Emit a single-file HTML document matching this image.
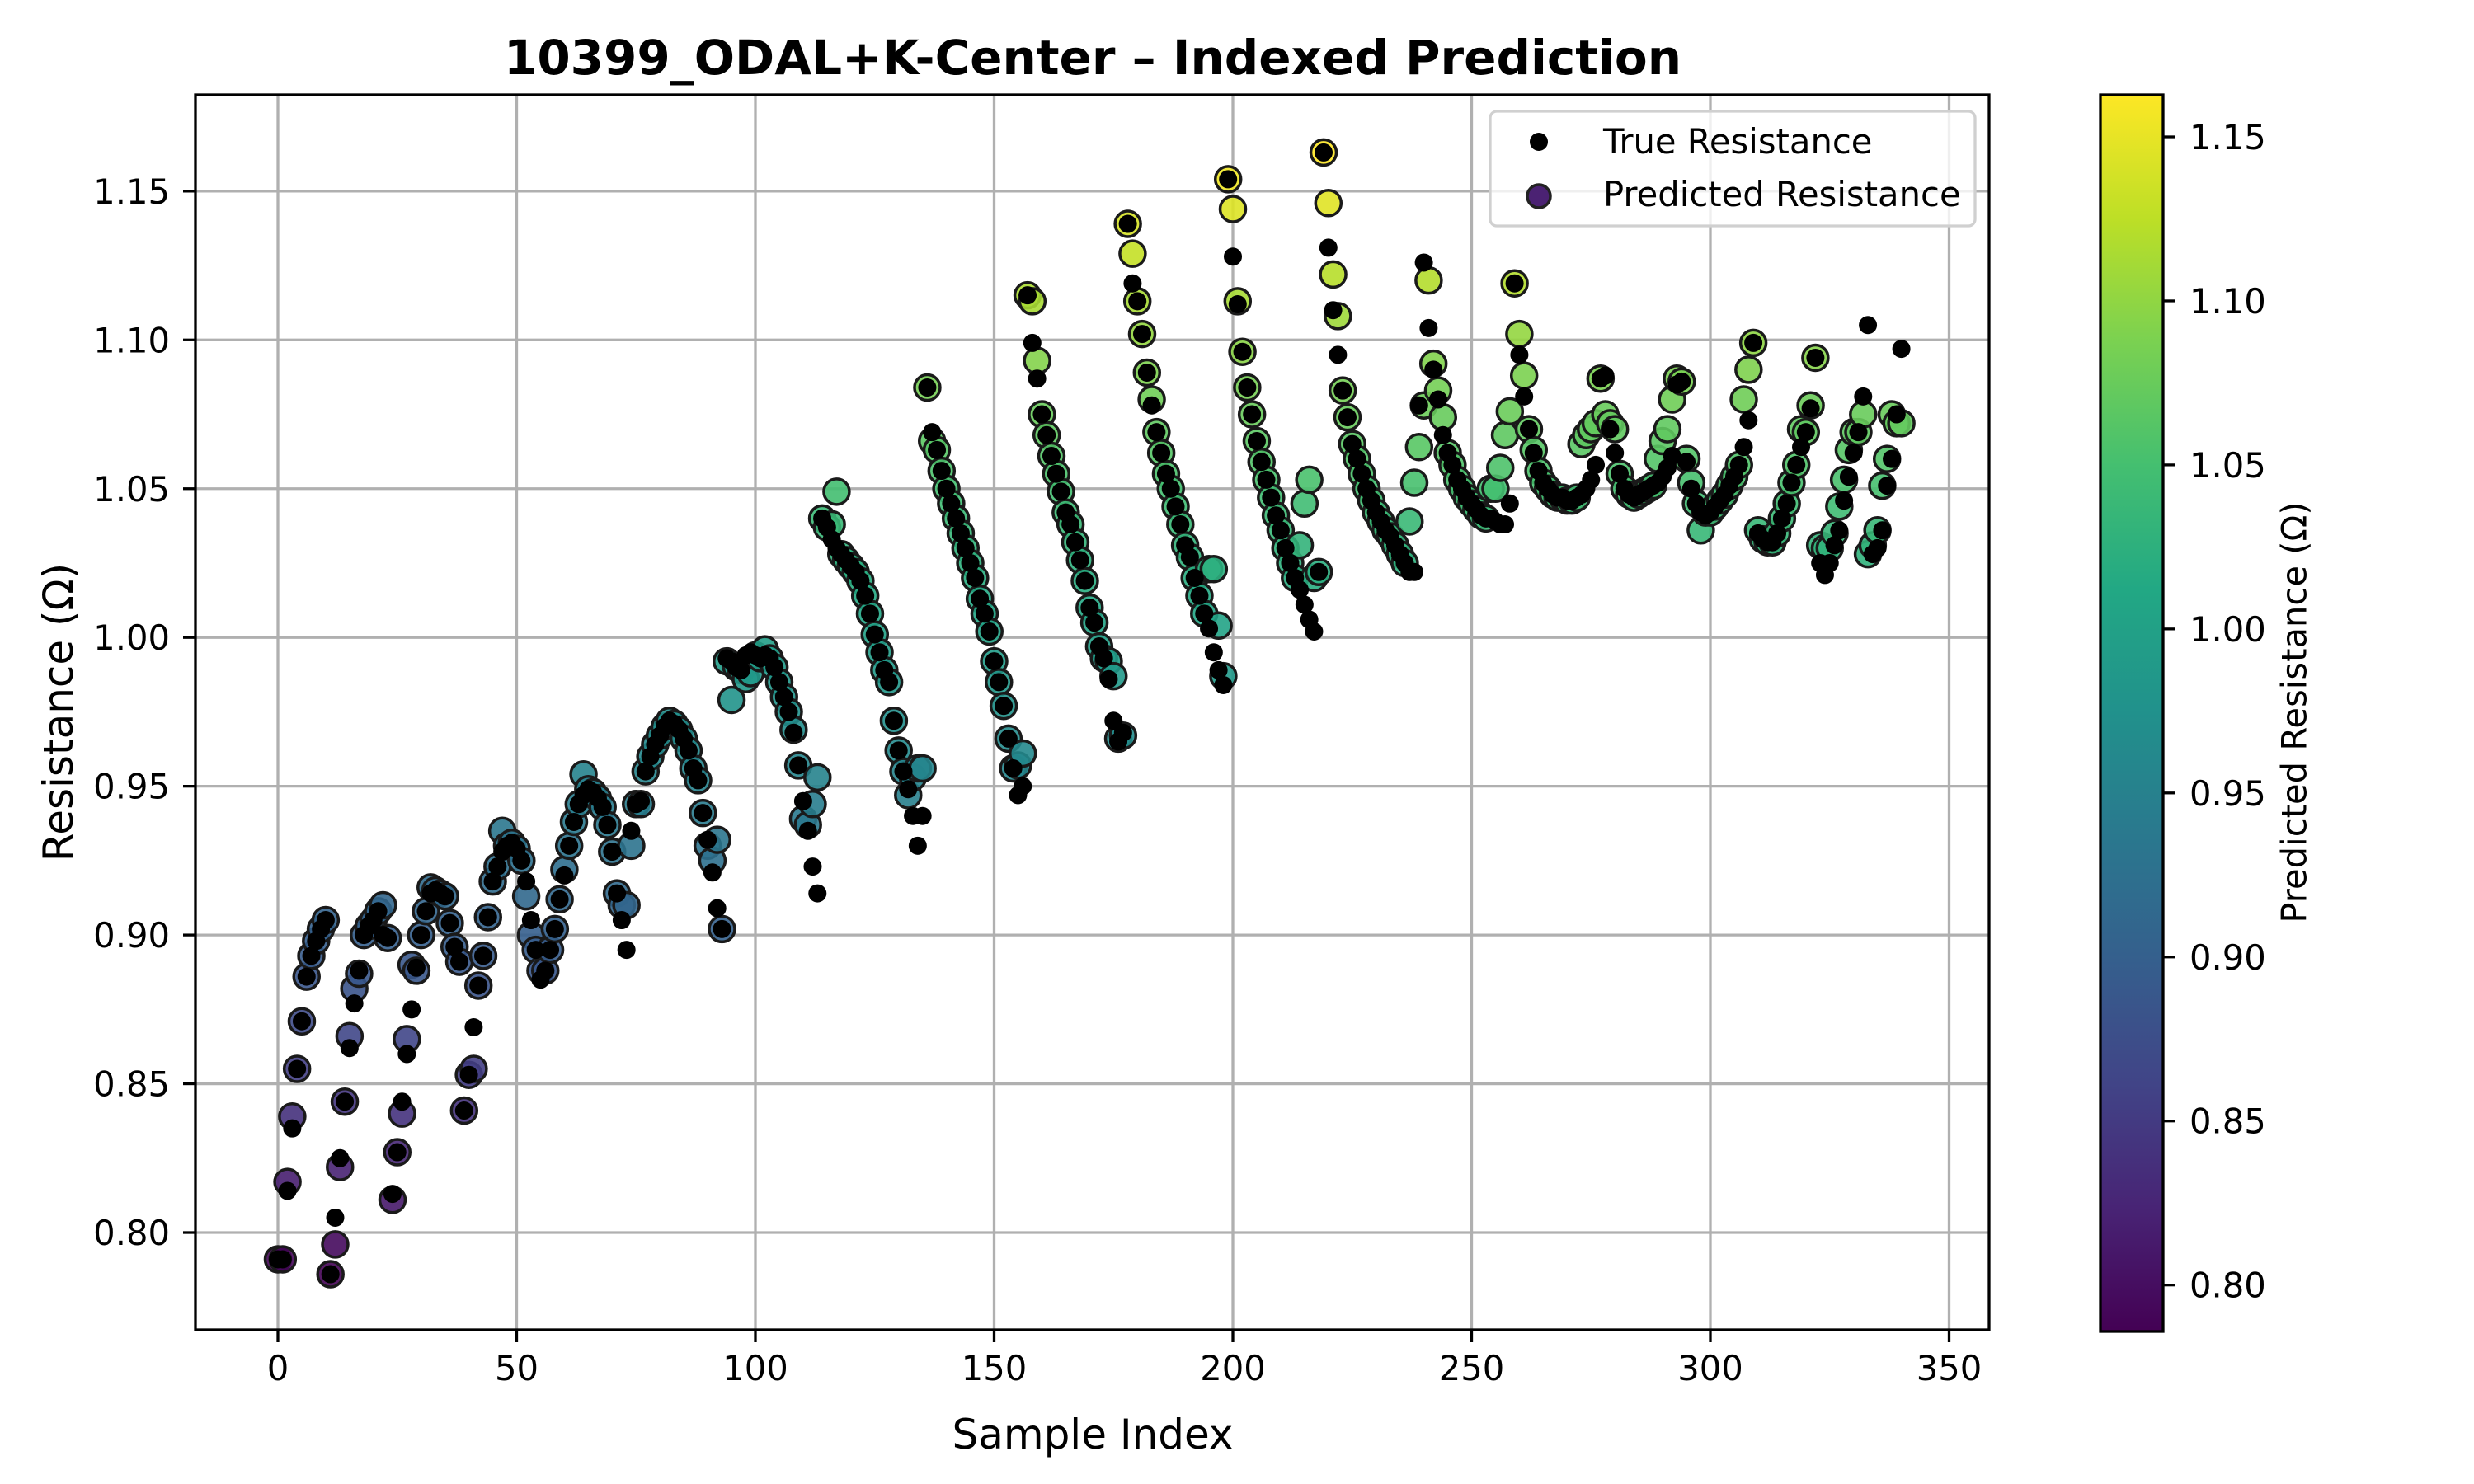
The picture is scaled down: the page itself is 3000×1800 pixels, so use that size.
<!DOCTYPE html>
<html><head><meta charset="utf-8"><style>
html,body{margin:0;padding:0;background:#fff}
svg{display:block;font-family:"DejaVu Sans","Liberation Sans",sans-serif}
</style></head><body>
<svg id="c" width="3000" height="1800" viewBox="0 0 3000 1800" xmlns="http://www.w3.org/2000/svg">
<rect width="3000" height="1800" fill="#fff"/>
<g id="grid"></g>
<g id="marks"></g>
<rect x="237" y="115" width="2175" height="1498" fill="none" stroke="#000" stroke-width="3.3"/>
<g id="axes"></g>
<text x="1325" y="90" text-anchor="middle" font-size="58" font-weight="bold">10399_ODAL+K-Center – Indexed Prediction</text>
<text x="1325" y="1757" text-anchor="middle" font-size="50">Sample Index</text>
<text transform="translate(71,864) rotate(-90)" text-anchor="middle" dominant-baseline="central" font-size="50">Resistance (Ω)</text>
<g>
<rect x="1807" y="135" width="588" height="139" rx="8" fill="#fff" fill-opacity="0.8" stroke="#d0d0d0" stroke-width="3.3"/>
<circle cx="1866" cy="172" r="11" fill="#000"/>
<text x="1944" y="186" font-size="41.7">True Resistance</text>
<circle cx="1866" cy="238" r="14" fill="#4b2273" stroke="#222" stroke-width="3.5"/>
<text x="1944" y="250" font-size="41.7">Predicted Resistance</text>
</g>
<defs><linearGradient id="vir" x1="0" y1="1" x2="0" y2="0"></linearGradient></defs>
<rect x="2547" y="115" width="76" height="1500" fill="url(#vir)" stroke="#000" stroke-width="3.3"/>
<g id="cbaxis"></g>
<text transform="translate(2782,864) rotate(-90)" text-anchor="middle" dominant-baseline="central" font-size="41.7">Predicted Resistance (Ω)</text>
</svg>
<script>
const xTicks=[0,50,100,150,200,250,300,350];
const yTicks=[0.80,0.85,0.90,0.95,1.00,1.05,1.10,1.15];
const cbTicks=[0.80,0.85,0.90,0.95,1.00,1.05,1.10,1.15];
const trueVals=[0.791,0.791,0.814,0.835,0.855,0.871,0.886,0.893,0.898,0.902,0.905,0.786,0.805,0.825,0.844,0.862,0.877,0.888,0.900,0.903,0.905,0.908,0.900,0.899,0.813,0.827,0.844,0.860,0.875,0.889,0.900,0.908,0.914,0.915,0.914,0.913,0.904,0.896,0.891,0.841,0.853,0.869,0.883,0.893,0.906,0.918,0.923,0.928,0.930,0.931,0.929,0.925,0.918,0.905,0.895,0.885,0.888,0.895,0.902,0.912,0.920,0.930,0.938,0.944,0.947,0.949,0.948,0.946,0.943,0.937,0.928,0.914,0.905,0.895,0.935,0.944,0.945,0.955,0.960,0.964,0.967,0.970,0.972,0.971,0.969,0.966,0.962,0.956,0.952,0.941,0.932,0.921,0.909,0.902,0.993,0.992,0.990,0.989,0.994,0.995,0.994,0.993,0.994,0.993,0.990,0.985,0.980,0.975,0.968,0.957,0.945,0.935,0.923,0.914,1.040,1.037,1.033,1.030,1.028,1.026,1.024,1.022,1.019,1.014,1.008,1.001,0.995,0.989,0.985,0.972,0.962,0.955,0.949,0.940,0.930,0.940,1.084,1.069,1.063,1.056,1.050,1.045,1.040,1.035,1.030,1.025,1.020,1.013,1.008,1.002,0.992,0.985,0.977,0.966,0.956,0.947,0.950,1.115,1.099,1.087,1.075,1.068,1.061,1.055,1.049,1.042,1.038,1.032,1.026,1.019,1.010,1.005,0.997,0.993,0.986,0.972,0.965,0.968,1.139,1.119,1.113,1.102,1.089,1.078,1.069,1.062,1.055,1.050,1.044,1.038,1.031,1.027,1.020,1.014,1.008,1.003,0.995,0.989,0.984,1.154,1.128,1.112,1.096,1.084,1.075,1.066,1.059,1.053,1.047,1.041,1.036,1.030,1.025,1.020,1.016,1.011,1.006,1.002,1.022,1.163,1.131,1.110,1.095,1.083,1.074,1.065,1.060,1.055,1.050,1.046,1.042,1.039,1.036,1.034,1.031,1.028,1.025,1.022,1.022,1.078,1.126,1.104,1.090,1.080,1.068,1.062,1.058,1.053,1.050,1.047,1.045,1.043,1.041,1.040,1.040,1.039,1.038,1.038,1.045,1.119,1.095,1.081,1.070,1.062,1.056,1.052,1.050,1.048,1.047,1.047,1.046,1.046,1.047,1.048,1.050,1.053,1.058,1.087,1.088,1.070,1.062,1.055,1.050,1.048,1.047,1.048,1.049,1.050,1.051,1.052,1.054,1.057,1.061,1.085,1.086,1.059,1.050,1.045,1.042,1.041,1.042,1.044,1.046,1.048,1.051,1.054,1.058,1.064,1.073,1.099,1.035,1.033,1.032,1.032,1.035,1.040,1.045,1.052,1.058,1.064,1.069,1.077,1.094,1.025,1.021,1.025,1.031,1.036,1.046,1.054,1.062,1.069,1.081,1.105,1.028,1.030,1.036,1.051,1.060,1.075,1.097];
const predVals=[0.791,0.791,0.817,0.839,0.855,0.871,0.886,0.893,0.898,0.902,0.905,0.786,0.796,0.822,0.844,0.866,0.882,0.887,0.900,0.903,0.905,0.908,0.910,0.899,0.811,0.827,0.840,0.865,0.890,0.888,0.900,0.908,0.916,0.915,0.914,0.913,0.904,0.896,0.891,0.841,0.853,0.855,0.883,0.893,0.906,0.918,0.923,0.935,0.930,0.931,0.929,0.925,0.913,0.900,0.895,0.888,0.888,0.895,0.902,0.912,0.922,0.930,0.938,0.944,0.954,0.949,0.948,0.946,0.943,0.937,0.928,0.914,0.910,0.910,0.930,0.944,0.944,0.955,0.960,0.964,0.967,0.970,0.972,0.971,0.969,0.966,0.962,0.956,0.952,0.941,0.930,0.925,0.932,0.902,0.992,0.979,0.990,0.989,0.986,0.988,0.994,0.993,0.996,0.993,0.990,0.985,0.980,0.975,0.969,0.957,0.939,0.937,0.944,0.953,1.040,1.037,1.038,1.049,1.028,1.026,1.024,1.022,1.019,1.014,1.008,1.001,0.995,0.989,0.985,0.972,0.962,0.955,0.947,0.953,0.956,0.956,1.084,1.066,1.063,1.056,1.050,1.045,1.040,1.035,1.030,1.025,1.020,1.013,1.008,1.002,0.992,0.985,0.977,0.966,0.956,0.957,0.961,1.115,1.113,1.093,1.075,1.068,1.061,1.055,1.049,1.042,1.038,1.032,1.026,1.019,1.010,1.005,0.997,0.993,0.992,0.987,0.966,0.967,1.139,1.129,1.113,1.102,1.089,1.080,1.069,1.062,1.055,1.050,1.044,1.038,1.031,1.027,1.020,1.014,1.008,1.023,1.023,1.004,0.987,1.154,1.144,1.113,1.096,1.084,1.075,1.066,1.059,1.053,1.047,1.041,1.036,1.030,1.025,1.020,1.031,1.045,1.053,1.020,1.022,1.163,1.146,1.122,1.108,1.083,1.074,1.065,1.060,1.055,1.050,1.046,1.042,1.039,1.036,1.034,1.031,1.028,1.025,1.039,1.052,1.064,1.078,1.120,1.092,1.083,1.074,1.062,1.058,1.053,1.050,1.047,1.045,1.043,1.041,1.040,1.050,1.050,1.057,1.068,1.076,1.119,1.102,1.088,1.070,1.063,1.056,1.052,1.050,1.048,1.047,1.047,1.046,1.046,1.047,1.065,1.068,1.070,1.072,1.087,1.075,1.072,1.070,1.055,1.050,1.048,1.047,1.048,1.049,1.050,1.051,1.060,1.066,1.070,1.080,1.087,1.086,1.060,1.052,1.045,1.036,1.042,1.042,1.044,1.046,1.048,1.051,1.054,1.058,1.080,1.090,1.099,1.036,1.033,1.032,1.032,1.035,1.040,1.045,1.052,1.058,1.070,1.069,1.078,1.094,1.031,1.030,1.030,1.035,1.044,1.053,1.063,1.069,1.069,1.075,1.028,1.031,1.036,1.051,1.060,1.075,1.072,1.072];
const NS="http://www.w3.org/2000/svg";
const X0=237,X1=2412,Y0=115,Y1=1613;
function xs(i){return 337+i*5.79;}
function ys(v){return 1495-(v-0.80)*3609;}
function cbY(v){return 166+(1.15-v)*3979;}
const VMIN=0.7863,VMAX=1.1628;
const vir=[[68,1,84],[72,36,117],[65,68,135],[53,95,141],[42,120,142],[33,145,140],[34,168,132],[68,191,112],[122,209,81],[189,223,38],[253,231,37]];
function viridis(t){t=Math.max(0,Math.min(1,t));const p=t*(vir.length-1);const i=Math.min(Math.floor(p),vir.length-2);const f=p-i;const a=vir[i],b=vir[i+1];return `rgb(${Math.round(a[0]+(b[0]-a[0])*f)},${Math.round(a[1]+(b[1]-a[1])*f)},${Math.round(a[2]+(b[2]-a[2])*f)})`;}
function mk(tag,at,parent){const e=document.createElementNS(NS,tag);for(const k in at)e.setAttribute(k,at[k]);parent.appendChild(e);return e;}
const grid=document.getElementById('grid'),axes=document.getElementById('axes'),marks=document.getElementById('marks'),cba=document.getElementById('cbaxis');
xTicks.forEach(t=>{const x=xs(t);
const g=mk('line',{x1:x,x2:x,y1:Y0,y2:Y1,stroke:'#b0b0b0','stroke-width':3.3},grid);


const tk=mk('line',{x1:x,x2:x,y1:Y1,y2:Y1+15,stroke:'#000','stroke-width':3.3},axes);


const tx=mk('text',{x:x,y:1674,'text-anchor':'middle','font-size':41.7},axes);tx.textContent=t;

});
yTicks.forEach(t=>{const y=ys(t);
const g=mk('line',{x1:X0,x2:X1,y1:y,y2:y,stroke:'#b0b0b0','stroke-width':3.3},grid);


const tk=mk('line',{x1:X0-15,x2:X0,y1:y,y2:y,stroke:'#000','stroke-width':3.3},axes);


const tx=mk('text',{x:206,y:y+15,'text-anchor':'end','font-size':41.7},axes);tx.textContent=t.toFixed(2);

});
predVals.forEach((v,i)=>{const c=mk('circle',{cx:xs(i),cy:ys(v),r:15.5,fill:viridis((v-VMIN)/(VMAX-VMIN)),stroke:'#1a1a1a','stroke-width':3.5,'fill-opacity':0.9},marks);

});
trueVals.forEach((v,i)=>{const c=mk('circle',{cx:xs(i),cy:ys(v),r:11,fill:'#000'},marks);

});
const grad=document.getElementById('vir');
vir.forEach((c,i)=>{mk('stop',{offset:(i/(vir.length-1)),'stop-color':`rgb(${c[0]},${c[1]},${c[2]})`},grad);});
cbTicks.forEach(t=>{const y=cbY(t);
const tk=mk('line',{x1:2623,x2:2638,y1:y,y2:y,stroke:'#000','stroke-width':3.3},cba);


const tx=mk('text',{x:2655,y:y+15,'font-size':41.7},cba);tx.textContent=t.toFixed(2);

});
</script>
</body></html>
